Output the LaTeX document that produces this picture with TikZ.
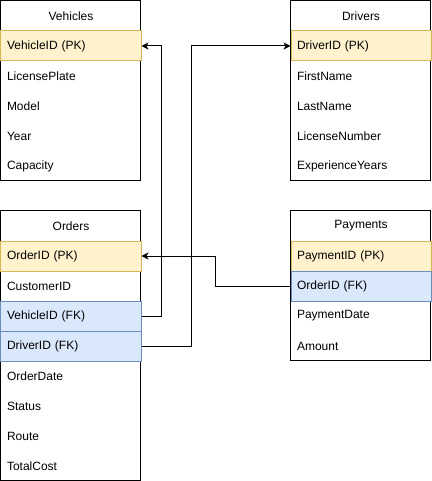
\documentclass[tikz,border=0pt]{standalone}
\usepackage{fontspec}
\setmainfont{Liberation Sans}
\usepackage{tikz}
\usepackage{xcolor}
\usetikzlibrary{arrows.meta, positioning}

\definecolor{pkfill}{HTML}{FFF2CC}
\definecolor{pkline}{HTML}{D6B656}
\definecolor{fkfill}{HTML}{DAE8FC}
\definecolor{fkline}{HTML}{6C8EBF}

\tikzset{
    field/.style={rectangle, anchor=north west, minimum height=30pt, text width=128pt,
        inner xsep=6pt, inner ysep=0pt, align=left, line width=1pt,
        font=\fontsize{12}{14}\selectfont},
    tabletitle/.style={field, align=center},
    pkfield/.style={field, fill=pkfill, draw=pkline},
    fkfield/.style={field, fill=fkfill, draw=fkline},
    tablebox/.style={draw=black, line width=1pt},
    link/.style={draw, line width=1pt, -{Stealth[length=7pt, width=7pt, inset=2pt]}}
}

\begin{document}
\begin{tikzpicture}[x=1pt, y=-1pt]
                        \useasboundingbox (-0.5, -0.5) rectangle (430.5, 480.5);

                        % Vehicles
                        \draw[tablebox] (0, 0) rectangle (140, 180);
                        \node[tabletitle] (veh) at (0, 0) {Vehicles};
                        \node[pkfield] (vehpk) at (0, 30) {VehicleID (PK)};
                        \node[field] (vehplate) at (0, 60) {LicensePlate};
                        \node[field] (vehmodel) at (0, 90) {Model};
                        \node[field] (vehyear) at (0, 120) {Year};
                        \node[field] (vehcap) at (0, 150) {Capacity};

                        % Drivers
                        \draw[tablebox] (290, 0) rectangle (430, 180);
                        \node[tabletitle] (drv) at (290, 0) {Drivers};
                        \node[pkfield] (drvpk) at (290, 30) {DriverID (PK)};
                        \node[field] (drvfirst) at (290, 60) {FirstName};
                        \node[field] (drvlast) at (290, 90) {LastName};
                        \node[field] (drvlic) at (290, 120) {LicenseNumber};
                        \node[field] (drvexp) at (290, 150) {ExperienceYears};

                        % Orders
                        \draw[tablebox] (0, 210) rectangle (140, 480);
                        \node[tabletitle] (ord) at (0, 210) {Orders};
                        \node[pkfield] (ordpk) at (0, 240) {OrderID (PK)};
                        \node[field] (ordcust) at (0, 270) {CustomerID};
                        \node[fkfield] (ordveh) at (0, 300) {VehicleID (FK)};
                        \node[fkfield] (orddrv) at (0, 330) {DriverID (FK)};
                        \node[field] (orddate) at (0, 360) {OrderDate};
                        \node[field] (ordstat) at (0, 390) {Status};
                        \node[field] (ordroute) at (0, 420) {Route};
                        \node[field] (ordcost) at (0, 450) {TotalCost};

                        % Payments
                        \draw[tablebox] (290, 210) rectangle (430, 360);
                        \node[tabletitle] (pay) at (290, 210) {Payments};
                        \node[pkfield] (paypk) at (290, 240) {PaymentID (PK)};
                        \node[fkfield] (payord) at (290, 270) {OrderID (FK)};
                        \node[field] (paydate) at (290, 300) {PaymentDate};
                        \node[field] (payamt) at (290, 330) {Amount};

                        \draw[link]
                        (ordveh.east) -- ++(20, 0) |- (vehpk.east);
                        \draw[link]
                        (orddrv.east) -- ++(50, 0) |- (drvpk.west);
                        \draw[link]
                        (payord.west) -- ++(-75, 0) |- (ordpk.east);
                    \end{tikzpicture}
\end{document}
